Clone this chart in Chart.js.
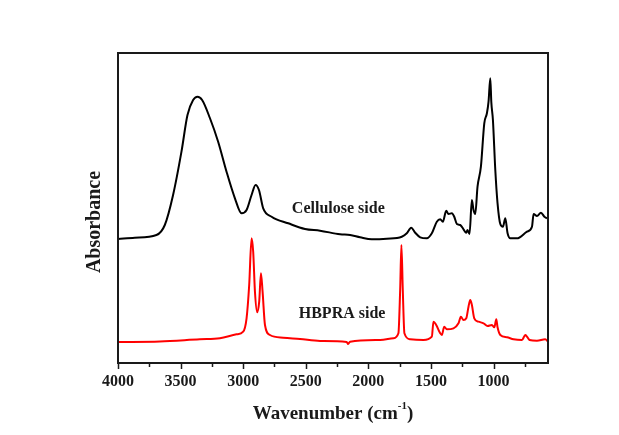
<!DOCTYPE html>
<html>
<head>
<meta charset="utf-8">
<script src="https://cdn.jsdelivr.net/npm/chart.js@4/dist/chart.umd.min.js"></script>
<style>
  html, body { margin: 0; padding: 0; background: #ffffff; }
  #wrap { width: 619px; height: 435px; position: relative; }
</style>
</head>
<body>
<div id="wrap"><canvas id="ftir" width="619" height="435"></canvas></div>
<script>
// FTIR spectra of the two faces of the film (wavenumber in cm-1, offset absorbance)
const cellWavenumber = [4000, 3866, 3693, 3626, 3560, 3493, 3445, 3400, 3365, 3328, 3266, 3200, 3133, 3066, 3013, 2973, 2933, 2901, 2874, 2840, 2773, 2640, 2506, 2386, 2226, 2146, 2066, 1973, 1853, 1733, 1693, 1658, 1626, 1586, 1533, 1493, 1453, 1426, 1405, 1378, 1360, 1333, 1314, 1293, 1266, 1240, 1218, 1208, 1192, 1173, 1160, 1146, 1128, 1101, 1074, 1053, 1040, 1026, 1018, 1005, 986, 968, 946, 925, 906, 888, 866, 813, 733, 693, 680, 653, 621, 594, 573];
const cellAbsorbance = [124, 125.3, 128, 138, 168, 211.3, 248, 263, 266.3, 263, 245, 221.3, 191.3, 164.7, 149.7, 153, 168, 178, 173, 154.7, 146.3, 139.7, 134, 132.3, 128.7, 128, 125.7, 123.7, 124.3, 126.3, 129.7, 135.3, 130.3, 125.7, 124.7, 129.7, 141.3, 143.7, 141.3, 152.3, 149, 149.7, 146.3, 139, 138, 133.7, 130.3, 133, 129, 163, 153, 149, 176.3, 196.3, 239.7, 249.7, 261.3, 284.7, 261.3, 243, 193, 159.7, 139, 136.3, 144.7, 129.7, 124.7, 124.7, 131.3, 136.3, 149, 147, 150.3, 146.3, 144.7];

const hbWavenumber = [4000, 3666, 3346, 3186, 3053, 3000, 2973, 2952, 2933, 2920, 2906, 2888, 2872, 2858, 2845, 2826, 2786, 2680, 2546, 2386, 2173, 2162, 2146, 1906, 1800, 1760, 1746, 1736, 1725, 1712, 1666, 1560, 1493, 1480, 1458, 1426, 1413, 1394, 1373, 1320, 1280, 1261, 1240, 1218, 1200, 1186, 1173, 1154, 1120, 1080, 1048, 1013, 994, 978, 968, 946, 893, 840, 773, 746, 733, 712, 653, 587, 565];
const hbAbsorbance = [21, 21.5, 23.7, 24.7, 28.7, 31.3, 44.7, 78, 124.7, 111.3, 71.3, 50.7, 61.3, 89.7, 71.3, 38, 28, 25.3, 24, 22, 21, 19, 21.3, 23, 24.7, 29.7, 73, 118, 73, 29.7, 23.7, 23, 26.3, 41.3, 38, 29.7, 28, 36.3, 33.7, 34.7, 39.7, 46.3, 43, 44.7, 56.3, 63, 58, 44.7, 41.3, 39.7, 37, 38, 35.7, 43.7, 35.7, 28, 25.7, 23.7, 23, 28, 26.3, 23, 22.3, 23.7, 21.3];

const seriesNames = ['Cellulose side', 'HBPRA side'];
const majorTicks = [4000, 3500, 3000, 2500, 2000, 1500, 1000];

const FONT = '"Liberation Serif", "Times New Roman", serif';

function toPoints(xs, ys) {
  return xs.map((x, i) => ({ x: x, y: ys[i] }));
}

// Frame, outward ticks, curve captions and axis titles
const decorations = {
  id: 'decorations',
  afterDraw(chart) {
    const ctx = chart.ctx;
    const a = chart.chartArea;
    const xs = chart.scales.x;
    const ys = chart.scales.y;
    ctx.save();

    // frame
    ctx.strokeStyle = '#1a1a1a';
    ctx.lineWidth = 2;
    ctx.strokeRect(a.left, a.top, a.right - a.left, a.bottom - a.top);

    // ticks: majors every 500, minors every 250
    ctx.lineWidth = 1.5;
    for (let v = 4000; v >= xs.min; v -= 250) {
      const px = Math.round(xs.getPixelForValue(v)) + 0.5;
      const len = (v % 500 === 0) ? 6 : 4;
      ctx.beginPath();
      ctx.moveTo(px, a.bottom);
      ctx.lineTo(px, a.bottom + len);
      ctx.stroke();
    }

    // tick labels
    ctx.fillStyle = '#1a1a1a';
    ctx.font = 'bold 16px ' + FONT;
    ctx.textAlign = 'center';
    ctx.textBaseline = 'middle';
    majorTicks.forEach(v => {
      ctx.fillText(String(v), xs.getPixelForValue(v), a.bottom + 19);
    });

    // captions next to the curves
    ctx.font = 'bold 16px ' + FONT;
    ctx.fillText(seriesNames[0], xs.getPixelForValue(2240), ys.getPixelForValue(154));
    ctx.fillText(seriesNames[1], xs.getPixelForValue(2210), ys.getPixelForValue(49));

    // x title with superscript
    const cx = (a.left + a.right) / 2;
    const ty = a.bottom + 51;
    ctx.font = 'bold 19px ' + FONT;
    const main = 'Wavenumber (cm';
    const sup = '-1';
    const tail = ')';
    const wMain = ctx.measureText(main).width;
    const wTail = ctx.measureText(tail).width;
    ctx.font = 'bold 11px ' + FONT;
    const wSup = ctx.measureText(sup).width;
    const total = wMain + wSup + wTail;
    const x0 = cx - total / 2;
    ctx.textAlign = 'left';
    ctx.font = 'bold 19px ' + FONT;
    ctx.fillText(main, x0, ty);
    ctx.font = 'bold 11px ' + FONT;
    ctx.fillText(sup, x0 + wMain, ty - 8);
    ctx.font = 'bold 19px ' + FONT;
    ctx.fillText(tail, x0 + wMain + wSup, ty);

    // y title
    ctx.save();
    ctx.translate(95, 222);
    ctx.rotate(-Math.PI / 2);
    ctx.textAlign = 'center';
    ctx.font = 'bold 20px ' + FONT;
    ctx.fillText('Absorbance', 0, 0);
    ctx.restore();

    ctx.restore();
  }
};

new Chart(document.getElementById('ftir'), {
  type: 'line',
  data: {
    datasets: [
      {
        label: seriesNames[0],
        data: toPoints(cellWavenumber, cellAbsorbance),
        borderColor: '#000000',
        borderWidth: 2,
        pointRadius: 0,
        cubicInterpolationMode: 'monotone',
        fill: false
      },
      {
        label: seriesNames[1],
        data: toPoints(hbWavenumber, hbAbsorbance),
        borderColor: '#ff0000',
        borderWidth: 2,
        pointRadius: 0,
        cubicInterpolationMode: 'monotone',
        fill: false
      }
    ]
  },
  options: {
    responsive: false,
    animation: false,
    layout: { padding: { left: 118, right: 71, top: 53, bottom: 72 } },
    plugins: {
      legend: { display: false },
      tooltip: { enabled: false }
    },
    scales: {
      x: {
        type: 'linear',
        reverse: true,
        min: 565,
        max: 4000,
        display: false
      },
      y: {
        type: 'linear',
        min: 0,
        max: 310,
        display: false
      }
    }
  },
  plugins: [decorations]
});
</script>
</body>
</html>
